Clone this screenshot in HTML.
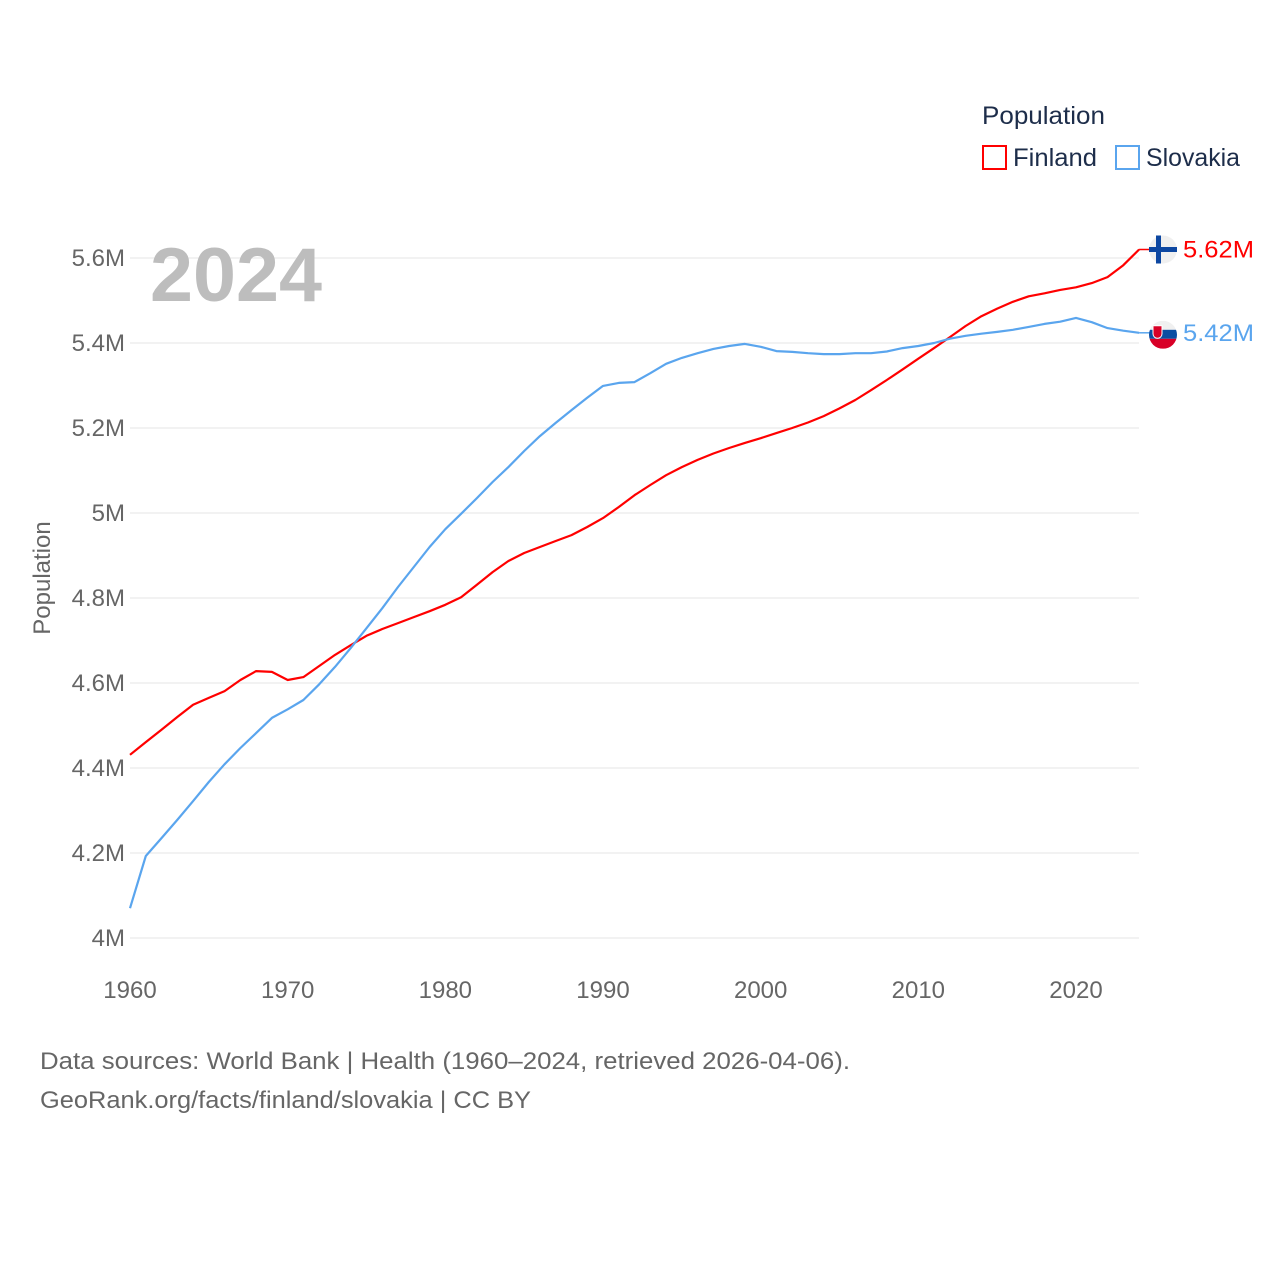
<!DOCTYPE html>
<html><head><meta charset="utf-8"><style>
body{margin:0;background:#fff;font-family:"Liberation Sans",sans-serif}
svg text{font-family:"Liberation Sans",sans-serif}
</style></head><body>
<svg id="chart" width="1280" height="1280" viewBox="0 0 1280 1280" xmlns="http://www.w3.org/2000/svg">
<rect width="1280" height="1280" fill="#fff"/>
<g id="grid"></g><g id="yticks"></g><g id="xticks"></g>
<text x="150" y="301" font-size="76" font-weight="bold" fill="#bdbdbd" textLength="172" lengthAdjust="spacingAndGlyphs">2024</text>
<text transform="translate(50,578) rotate(-90)" text-anchor="middle" font-size="24" fill="#666">Population</text>
<g id="lines"></g>
<g>
<text x="982" y="124" font-size="25" fill="#1d2d4a" textLength="123" lengthAdjust="spacingAndGlyphs">Population</text>
<g><rect x="983" y="146" width="23" height="23" fill="none" stroke="#ff0000" stroke-width="2"/><text x="1013" y="166" font-size="25" fill="#1d2d4a" textLength="84" lengthAdjust="spacingAndGlyphs">Finland</text></g>
<g><rect x="1116" y="146" width="23" height="23" fill="none" stroke="#5aa5ee" stroke-width="2"/><text x="1146" y="166" font-size="25" fill="#1d2d4a" textLength="94" lengthAdjust="spacingAndGlyphs">Slovakia</text></g>
</g>
<text x="40" y="1069" font-size="24" fill="#666" textLength="810" lengthAdjust="spacingAndGlyphs">Data sources: World Bank | Health (1960–2024, retrieved 2026-04-06).</text>
<text x="40" y="1108" font-size="24" fill="#666" textLength="491" lengthAdjust="spacingAndGlyphs">GeoRank.org/facts/finland/slovakia | CC BY</text>
</svg>
<script>
const years=[];for(let y=1960;y<=2024;y++)years.push(y);
const finland=[4.431,4.461,4.49,4.52,4.549,4.565,4.581,4.607,4.628,4.626,4.607,4.614,4.64,4.666,4.689,4.711,4.727,4.741,4.755,4.769,4.784,4.802,4.831,4.861,4.887,4.906,4.92,4.934,4.948,4.967,4.988,5.014,5.042,5.066,5.089,5.108,5.125,5.14,5.153,5.165,5.176,5.188,5.2,5.213,5.228,5.246,5.266,5.289,5.313,5.338,5.363,5.388,5.414,5.44,5.463,5.481,5.497,5.51,5.517,5.525,5.531,5.541,5.555,5.583,5.62];
const slovakia=[4.07,4.193,4.235,4.278,4.322,4.367,4.409,4.447,4.482,4.518,4.538,4.56,4.597,4.638,4.682,4.729,4.776,4.826,4.873,4.92,4.962,4.998,5.035,5.073,5.108,5.146,5.181,5.212,5.242,5.271,5.299,5.306,5.308,5.329,5.351,5.365,5.376,5.386,5.393,5.398,5.391,5.381,5.379,5.376,5.374,5.374,5.376,5.376,5.38,5.388,5.393,5.4,5.41,5.417,5.422,5.426,5.431,5.438,5.445,5.45,5.459,5.449,5.435,5.429,5.424];
const yTicks=[4,4.2,4.4,4.6,4.8,5,5.2,5.4,5.6];
const yTickLabels=["4M","4.2M","4.4M","4.6M","4.8M","5M","5.2M","5.4M","5.6M"];
const xTicks=[1960,1970,1980,1990,2000,2010,2020];
const NS="http://www.w3.org/2000/svg";
const X=v=>130+(v-1960)*(946/60);
const Y=v=>938-(v-4)*425;
function mk(tag,attrs,parent){const e=document.createElementNS(NS,tag);for(const k in attrs)e.setAttribute(k,attrs[k]);parent.appendChild(e);return e;}
const grid=document.getElementById('grid'),yt=document.getElementById('yticks'),xt=document.getElementById('xticks'),lines=document.getElementById('lines');
yTicks.forEach((t,i)=>{
 const l=mk('line',{x1:130,x2:1139,y1:Y(t),y2:Y(t),stroke:'#e6e6e6','stroke-width':1},grid);
 
 
 const tx=mk('text',{x:125,y:Y(t)+8,'text-anchor':'end','font-size':24,fill:'#666'},yt);
 tx.textContent=yTickLabels[i];
 
 
});
xTicks.forEach(t=>{
 const tx=mk('text',{x:X(t),y:998,'text-anchor':'middle','font-size':24,fill:'#666'},xt);
 tx.textContent=t;
 
 
});
function series(vals,color,name){
 const d=vals.map((v,i)=>(i?'L':'M')+X(years[i]).toFixed(1)+','+Y(v).toFixed(1)).join('');
 const p=mk('path',{d:d,fill:'none',stroke:color,'stroke-width':2.2,'stroke-linejoin':'round'},lines);
 
 
 const last=vals[vals.length-1],ly=Y(last),lx=X(years[years.length-1]);
 const c=mk('line',{x1:lx,x2:1150,y1:ly,y2:ly,stroke:color,'stroke-width':1.5},lines);
 
 
 const t=mk('text',{x:1183,y:ly+8,'font-size':24,fill:color,textLength:71,lengthAdjust:'spacingAndGlyphs'},lines);
 t.textContent=last.toFixed(2)+'M';
 
 
 return ly;
}
const fy=series(finland,'#ff0000','finland');
const sy=series(slovakia,'#5aa5ee','slovakia');
const fg=mk('g',{},lines);


mk('circle',{cx:1163,cy:fy,r:14,fill:'#f0f0f0'},fg);
mk('rect',{x:1149,y:fy-2.5,width:28,height:5,fill:'#0d47a1'},fg);
mk('rect',{x:1156,y:fy-14,width:5,height:28,fill:'#0d47a1'},fg);
const sg=mk('g',{},lines);


const cp=mk('clipPath',{id:'skc'},sg);mk('circle',{cx:1163,cy:sy+2,r:14},cp);
const sg2=mk('g',{'clip-path':'url(#skc)'},sg);
mk('rect',{x:1149,y:sy-12,width:28,height:9,fill:'#f0f0f0'},sg2);
mk('rect',{x:1149,y:sy-3,width:28,height:9,fill:'#0b4ea2'},sg2);
mk('rect',{x:1149,y:sy+6,width:28,height:10,fill:'#d80027'},sg2);
mk('path',{d:`M1153,${sy-7}h9v8a4.5,4.5 0 0 1 -9,0z`,fill:'#d80027',stroke:'#fff','stroke-width':1},sg);
</script>
</body></html>
